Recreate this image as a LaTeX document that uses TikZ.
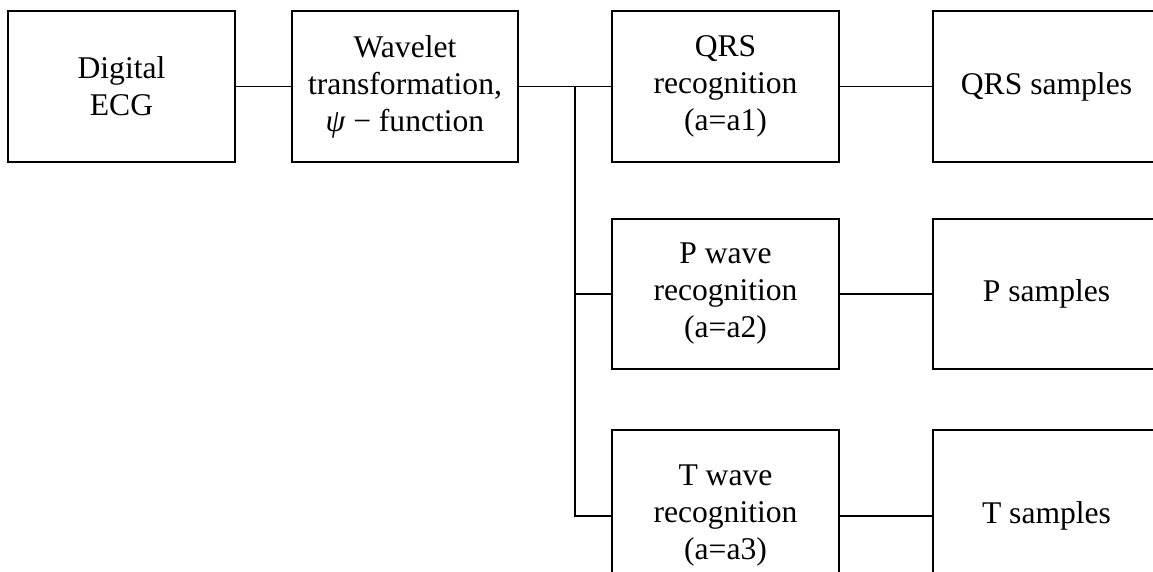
\documentclass[tikz,border=0pt]{standalone}
\usepackage{fontspec}
\setmainfont{Liberation Serif}
\begin{document}
\begin{tikzpicture}[x=1pt,y=-1pt,
  box/.style={draw,line width=1.8pt,align=center,inner sep=0pt,
    minimum width=227pt,minimum height=151pt,
    font=\fontsize{31.6}{37}\selectfont},
  conn/.style={line width=1.8pt}]
\useasboundingbox (0,0) rectangle (1153,572);
\clip (0,0) rectangle (1153,572);
\node[box] (ecg) at (121.5,86.5) {Digital\\ECG};
\node[box,minimum width=226pt] (wav) at (405,86.5) {Wavelet\\transformation,\\{\itshape ψ} − function};
\node[box] (qrs) at (725.5,86.5) {QRS\\recognition\\(a=a1)};
\node[box] (qrss) at (1046.5,86.5) {QRS samples};
\node[box,minimum height=150pt] (pw) at (725.5,294) {P wave\\recognition\\(a=a2)};
\node[box,minimum height=150pt] (ps) at (1046.5,294) {P samples};
\node[box,minimum height=172pt] (tw) at (725.5,516) {T wave\\recognition\\(a=a3)};
\node[box,minimum height=172pt] (ts) at (1046.5,516) {T samples};
\coordinate (j) at (575,86.5);
\draw[conn] (ecg.east) -- (wav.west);
\draw[conn] (wav.east) -- (qrs.west);
\draw[conn] (j) |- (pw.west);
\draw[conn] (j) |- (tw.west);
\draw[conn] (qrs.east) -- (qrss.west);
\draw[conn] (pw.east) -- (ps.west);
\draw[conn] (tw.east) -- (ts.west);
\end{tikzpicture}
\end{document}
